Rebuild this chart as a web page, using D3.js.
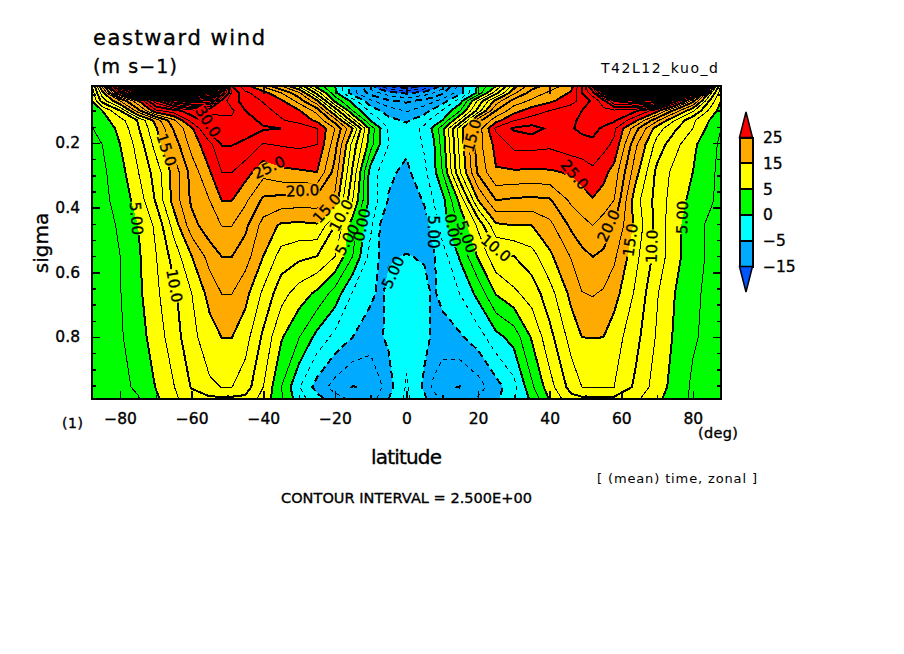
<!DOCTYPE html>
<html>
<head>
<meta charset="utf-8">
<title>eastward wind</title>
<script src="https://cdn.jsdelivr.net/npm/d3@7"></script>
<style>
body { margin: 0; background: #fff; }
text { font-family: "DejaVu Sans", sans-serif; fill: #000; }
.heavy text, text.heavy { stroke: #000; stroke-width: 0.35px; }
</style>
</head>
<body>
<svg id="chart" width="904" height="654"></svg>
<script>
// grid axes
var latitudes = [-87.86, -85, -80, -75, -70, -65, -60, -55, -51.6, -48.8, -45, -40, -35, -30, -25, -20, -15, -10, -7.5, -5, 0,
    5, 7.5, 10, 15, 20, 25, 30, 35, 40, 46, 49, 52, 55, 58, 64, 70, 75, 80, 85, 87.86];
var sigmaLevels = [0.024, 0.045, 0.07, 0.10, 0.13, 0.155, 0.205, 0.29, 0.377, 0.455, 0.55, 0.665, 0.80, 0.955, 0.992];

// zonal wind (m/s), one row per sigma level, top to bottom
var u024 = [7, 18, 36, 52, 66, 72, 74, 70, 50, 30, 26, 22, 17.5, 12, 3.8, 0, -6, -14, -17, -20, -22, -20, -17, -14, -6, 0.5, 5, 14, 19, 21, 24, 30, 38, 55, 70, 76, 76, 62, 45, 20, 7];
var u045 = [6, 14, 28, 40, 52, 58, 60, 55, 42, 32, 28, 26, 22.5, 18, 9, 0.8, -6.5, -11, -12.5, -14, -15.5, -14, -12.5, -10.5, -6, 0.8, 9, 17, 21, 23, 25.3, 30, 34, 44, 55, 62, 62, 50, 32, 13, 6];
var u070 = [5, 11, 17.5, 24.5, 34, 42, 45, 44, 34, 31, 29, 27.3, 25.5, 21.5, 15.5, 4.5, -1, -7, -8.3, -9.5, -10.5, -9, -8, -6.5, -1, 8, 16, 21, 23, 24.5, 26.5, 28.5, 30.5, 34, 40, 43, 42, 31, 21, 9, 5];
var u100 = [3.5, 5, 10, 19, 27, 29, 31.5, 33, 33, 33, 30, 28.3, 26.7, 25.2, 21.5, 12, 2.5, -3.3, -4.9, -6.2, -7.8, -6, -4.3, -2.3, 2.4, 11, 20, 24, 26.2, 27.5, 29, 30, 31, 31.8, 32, 30.5, 26, 19, 13, 6.5, 4];
var u130 = [3, 4, 6.5, 10.2, 16, 22, 28.5, 31.5, 32, 32, 31, 29.4, 27.8, 26.4, 24.5, 18.7, 8.5, -0.3, -2.2, -4.3, -5.3, -3.5, -1.5, 0, 8, 19, 24, 27.4, 28.5, 29, 29.7, 30.3, 31.5, 31.3, 30.5, 25.6, 18, 12.5, 8, 4.7, 3];
var u155 = [2.4, 3.5, 5.6, 9.7, 14.7, 20.3, 24.5, 31.5, 32, 32, 31, 30.3, 30, 29.6, 27.5, 22.5, 15, 4, 0.3, -2.8, -4.3, -1.8, 0.5, 4, 14, 21, 28, 30.3, 31, 29.5, 29.8, 30.5, 31, 29.5, 28, 21, 13.7, 10.4, 7.5, 4, 2.5];
var u205 = [2.2, 2.5, 5, 8.4, 13.5, 18.5, 23.5, 26.7, 30.1, 30.1, 29.5, 27.3, 27.7, 28, 27.5, 21, 11.5, 3.5, 0, -2.5, -4.4, -2.2, -0.5, 3.5, 13.5, 21.5, 25.8, 28.2, 28.3, 28, 29, 29.1, 29.2, 28.3, 27, 18, 11.5, 8.3, 5.6, 3, 2.2];
var u290 = [1.7, 2, 4, 7.4, 11.1, 16, 21, 24.8, 27.55, 27.55, 26, 23.4, 24.4, 24.7, 25, 19, 9.5, -1.3, -2.9, -4.5, -5.6, -3, -0.9, 2.5, 12.5, 20.5, 24.8, 24.7, 24.6, 24.7, 25.3, 26, 27, 25.8, 24, 16, 9.3, 6.7, 5, 3, 1.8];
var u377 = [1.4, 1.8, 3.5, 6, 10.3, 16, 20.5, 22.5, 25.05, 25.05, 23, 19.5, 19, 18.8, 18.8, 16.8, 7.5, -1.2, -2.9, -5.2, -6.3, -4.8, -2.5, -1, 5.8, 15, 20, 19.6, 19.4, 19.7, 23, 24, 24.8, 24, 22.5, 13.5, 9, 6.2, 4.3, 2.8, 1.7];
var u455 = [1.3, 1.6, 2.8, 5, 8, 13.5, 19, 21.6, 22.55, 22.55, 20.6, 16.5, 14.6, 14.4, 14.7, 10, 3.6, -2, -5, -5.8, -6.2, -5.8, -4.2, -1.2, 3.2, 8, 14.5, 15, 15, 16.8, 20.5, 21.6, 22.5, 21.3, 20, 14.3, 9, 5.8, 3.5, 1.9, 1.6];
var u550 = [1.2, 1.6, 2.5, 4.6, 7.4, 11, 15, 18.5, 20.05, 20.05, 18.6, 15, 11.5, 10.6, 10, 7.6, 2.5, -3.5, -5.1, -5.2, -4.9, -5.2, -5.3, -3.7, 0.4, 5.3, 9.3, 10, 11.5, 14.5, 17.7, 19.3, 20.05, 19.6, 18, 13.2, 9, 5.8, 3.5, 2, 1.6];
var u665 = [1.2, 1.5, 2.4, 4.4, 7, 9.5, 12.5, 15.9, 17.55, 17.55, 15.8, 12, 8.5, 6.3, 4.5, 1.5, -2.7, -4.5, -5.4, -4.5, -4, -4.4, -5.3, -4.4, -2.4, 0.8, 5.2, 7, 8.6, 11.5, 15.7, 17.4, 17.7, 17.2, 16, 12.1, 7.7, 5, 3, 1.9, 1.5];
var u800 = [1, 1.4, 2.2, 3.9, 6.2, 8.8, 11.8, 13.9, 15.05, 15.05, 13.5, 9.5, 5.3, 2.6, -0.8, -3.2, -5, -6.3, -5.3, -4.6, -3.3, -4.3, -5.4, -5.9, -5.3, -3.7, -0.8, 1, 5.3, 9.2, 13.5, 15.02, 15.05, 15.02, 13.7, 10.8, 7.2, 4.6, 2.8, 1.8, 1.3];
var u955 = [1, 1.2, 1.9, 2.9, 5.1, 7.4, 10.2, 12.1, 12.55, 12.55, 11.2, 7.5, 2.5, -2.3, -6, -8.5, -10.1, -9.6, -8, -6, -2.2, -5.5, -8, -9.5, -10.1, -8.6, -6, -3.4, 2, 6.5, 11, 12.5, 12.55, 12.6, 12.5, 9.5, 6.3, 4, 2.1, 1.4, 1.1];
var u992 = [1, 1.2, 1.7, 2.3, 4.5, 7, 8.8, 9.4, 9.4, 9.4, 9.4, 6.5, 3, -1.5, -4, -6.5, -8, -8.5, -7, -5, -2, -4.5, -6.5, -8, -8.3, -7.2, -5.5, -2.7, 0.5, 5.2, 9.2, 9.4, 9.4, 9.4, 9.4, 8, 5.6, 3.5, 2.2, 1.5, 1.2];
var windRows = [u024, u045, u070, u100, u130, u155, u205, u290, u377, u455, u550, u665, u800, u955, u992];

// colour bands and contour levels
var bandBreaks = [-15, -5, 0, 5, 15, 25];
var bandColors = ["#0055ff", "#00aaff", "#00ffff", "#00ff00", "#ffff00", "#ffaa00", "#ff0000"];
var legendLabels = ["25", "15", "5", "0", "\u22125", "\u221215"];
var contourLevels = d3.range(-25, 85, 2.5);

var latTicks = [-80, -60, -40, -20, 0, 20, 40, 60, 80];
var latMinorTicks = [-70, -50, -30, -10, 10, 30, 50, 70];
var sigmaTicks = [0.2, 0.4, 0.6, 0.8];
var sigmaMinorTicks = [0.05, 0.1, 0.15, 0.25, 0.3, 0.35, 0.45, 0.5, 0.55, 0.65, 0.7, 0.75, 0.85, 0.9, 0.95];

// contour labels: text, lat, sigma, rotation
var contourLabels = [
    ["30.0", -55.4, 0.134, 58], ["15.0", -67, 0.221, 72], ["25.0", -38.4, 0.275, -25],
    ["20.0", -29, 0.347, -3], ["15.0", -22.3, 0.402, -48], ["10.0", -18.3, 0.424, -62],
    ["5.00", -75.4, 0.433, 85], ["5.00", -16.6, 0.499, -60], ["0.00", -12.5, 0.453, -78],
    ["10.0", -64.8, 0.642, 80], ["5.00", -3.8, 0.600, -65],
    ["15.0", 18.3, 0.177, -75], ["25.0", 47, 0.298, 50], ["20.0", 56.4, 0.456, -65],
    ["15.0", 62.5, 0.5, -82], ["10.0", 68.5, 0.52, -88], ["5.00", 77, 0.43, -88],
    ["5.00", 7.4, 0.475, 90], ["0.00", 13, 0.47, 80], ["5.00", 16.9, 0.49, 70], ["10.0", 25, 0.525, 40]
];

var svg = d3.select("#chart");
var left = 92, right = 721, top_ = 86, bottom = 399;

var x = d3.scaleLinear().domain([-87.86, 87.86]).range([left, right]);
var y = d3.scaleLinear().domain([0.0237, 0.992]).range([top_, bottom]);

// d3.contours works in grid index space, these go from index to data
var nx = latitudes.length, ny = sigmaLevels.length;
var indexToLat = d3.scaleLinear().domain(d3.range(nx)).range(latitudes).clamp(true);
var indexToSigma = d3.scaleLinear().domain(d3.range(ny)).range(sigmaLevels).clamp(true);

var gridPath = d3.geoPath(d3.geoTransform({
    point: function (px, py) {
        this.stream.point(x(indexToLat(px - 0.5)), y(indexToSigma(py - 0.5)));
    }
}));
var flat = d3.merge(windRows);
var contours = d3.contours().size([nx, ny]);

var defs = svg.append("defs");
defs.append("clipPath").attr("id", "plot-clip").append("rect")
        .attr("x", left).attr("y", top_).attr("width", right - left).attr("height", bottom - top_);

// lines are broken where a label sits
var mask = defs.append("mask").attr("id", "label-gaps").attr("maskUnits", "userSpaceOnUse")
        .attr("x", 0).attr("y", 0).attr("width", 904).attr("height", 654);
mask.append("rect").attr("width", 904).attr("height", 654).attr("fill", "#fff");
mask.selectAll("rect.gap")
        .data(contourLabels)
        .enter().append("rect")
        .attr("class", "gap")
        .attr("x", -17).attr("y", -7).attr("width", 34).attr("height", 14)
        .attr("fill", "#000")
        .attr("transform", function (d) {
            return "translate(" + x(d[1]) + "," + y(d[2]) + ") rotate(" + d[3] + ")";
        });

var plot = svg.append("g").attr("clip-path", "url(#plot-clip)");

// colour bands
plot.append("rect")
        .attr("x", left).attr("y", top_).attr("width", right - left).attr("height", bottom - top_)
        .attr("fill", bandColors[0]);
plot.selectAll("path.band")
        .data(contours.thresholds(bandBreaks)(flat))
        .enter().append("path")
        .attr("class", "band")
        .attr("d", gridPath)
        .attr("fill", function (d, i) {
            return bandColors[i + 1];
        })
        .attr("shape-rendering", "crispEdges");

// contour lines, thick on multiples of 5, dashed when negative
plot.append("g").attr("mask", "url(#label-gaps)")
        .selectAll("path.line")
        .data(contours.thresholds(contourLevels)(flat))
        .enter().append("path")
        .attr("class", "line")
        .attr("d", gridPath)
        .attr("fill", "none")
        .attr("stroke", "#000")
        .attr("stroke-width", function (d) {
            return d.value % 5 === 0 ? 2 : 1;
        })
        .attr("stroke-dasharray", function (d) {
            if (d.value >= 0)
                return null;
            return d.value % 5 === 0 ? "7 4" : "4 4";
        })
        .attr("shape-rendering", "crispEdges");

svg.selectAll("text.clabel")
        .data(contourLabels)
        .enter().append("text")
        .attr("class", "clabel heavy")
        .attr("text-anchor", "middle")
        .attr("dy", "0.36em")
        .attr("font-size", 15)
        .attr("transform", function (d) {
            return "translate(" + x(d[1]) + "," + y(d[2]) + ") rotate(" + d[3] + ")";
        })
        .text(function (d) {
            return d[0];
        });

// frame and ticks
svg.append("rect")
        .attr("x", left).attr("y", top_).attr("width", right - left).attr("height", bottom - top_)
        .attr("fill", "none").attr("stroke", "#000").attr("stroke-width", 2)
        .attr("shape-rendering", "crispEdges");

function styleAxis(g) {
    g.attr("class", "heavy");
    g.select(".domain").remove();
    g.selectAll("line").attr("stroke", "#000").attr("stroke-width", 1.5).attr("shape-rendering", "crispEdges");
    g.selectAll("text").attr("font-size", 15.5);
}
var fmtLat = d3.format("d");

svg.append("g").attr("transform", "translate(0," + bottom + ")")
        .call(d3.axisBottom(x).tickValues(latTicks).tickSize(-8).tickPadding(14).tickFormat(fmtLat))
        .call(styleAxis);
svg.append("g").attr("transform", "translate(0," + bottom + ")")
        .call(d3.axisBottom(x).tickValues(latMinorTicks).tickSize(-4).tickFormat(""))
        .call(styleAxis);
svg.append("g").attr("transform", "translate(0," + top_ + ")")
        .call(d3.axisTop(x).tickValues(latTicks).tickSize(-8).tickFormat(""))
        .call(styleAxis);
svg.append("g").attr("transform", "translate(0," + top_ + ")")
        .call(d3.axisTop(x).tickValues(latMinorTicks).tickSize(-4).tickFormat(""))
        .call(styleAxis);
svg.append("g").attr("transform", "translate(" + left + ",0)")
        .call(d3.axisLeft(y).tickValues(sigmaTicks).tickSize(-8).tickPadding(12).tickFormat(d3.format(".1f")))
        .call(styleAxis);
svg.append("g").attr("transform", "translate(" + left + ",0)")
        .call(d3.axisLeft(y).tickValues(sigmaMinorTicks).tickSize(-4).tickFormat(""))
        .call(styleAxis);
svg.append("g").attr("transform", "translate(" + right + ",0)")
        .call(d3.axisRight(y).tickValues(sigmaTicks).tickSize(-8).tickFormat(""))
        .call(styleAxis);
svg.append("g").attr("transform", "translate(" + right + ",0)")
        .call(d3.axisRight(y).tickValues(sigmaMinorTicks).tickSize(-4).tickFormat(""))
        .call(styleAxis);

// colour bar: one box per band between two arrow heads
var barX = 739.5, barW = 13;
var barY = d3.scaleBand().domain(d3.range(5)).range([137.5, 266.5]);
var barColors = bandColors.slice(1, 6).reverse();
svg.selectAll("rect.key")
        .data(barColors)
        .enter().append("rect")
        .attr("class", "key")
        .attr("x", barX).attr("y", function (d, i) {
            return barY(i);
        })
        .attr("width", barW).attr("height", barY.bandwidth())
        .attr("fill", function (d) {
            return d;
        })
        .attr("stroke", "#000").attr("stroke-width", 2)
        .attr("shape-rendering", "crispEdges");
svg.append("path")
        .attr("d", d3.line()([[barX, 137.5], [barX + barW / 2, 112], [barX + barW, 137.5]]) + "Z")
        .attr("fill", bandColors[6]).attr("stroke", "#000").attr("stroke-width", 1.5);
svg.append("path")
        .attr("d", d3.line()([[barX, 266.5], [barX + barW / 2, 292], [barX + barW, 266.5]]) + "Z")
        .attr("fill", bandColors[0]).attr("stroke", "#000").attr("stroke-width", 1.5);
svg.selectAll("text.key")
        .data(legendLabels)
        .enter().append("text")
        .attr("class", "key heavy")
        .attr("x", 763)
        .attr("y", function (d, i) {
            return 137.5 + i * barY.bandwidth();
        })
        .attr("dy", "0.36em")
        .attr("font-size", 15.5)
        .text(function (d) {
            return d;
        });

// titles and notes: text, x, baseline, size, width, css class
var notes = [
    ["eastward wind", 93, 45, 21, 172, "heavy"],
    ["(m s\u22121)", 93, 73, 19, 84, "heavy"],
    ["T42L12_kuo_d", 601, 73, 14, 117, ""],
    ["(1)", 62, 428, 14, 21, "heavy"],
    ["(deg)", 698, 438, 14.5, 40, "heavy"],
    ["latitude", 371, 464, 20, 71, "heavy"],
    ["[ (mean) time, zonal ]", 597, 483, 13, 160, ""],
    ["CONTOUR INTERVAL = 2.500E+00", 281, 503, 14.5, 251, "heavy"]
];
svg.selectAll("text.note")
        .data(notes)
        .enter().append("text")
        .attr("class", function (d) {
            return "note " + d[5];
        })
        .attr("x", function (d) {
            return d[1];
        })
        .attr("y", function (d) {
            return d[2];
        })
        .attr("font-size", function (d) {
            return d[3];
        })
        .attr("textLength", function (d) {
            return d[4];
        })
        .attr("lengthAdjust", "spacing")
        .text(function (d) {
            return d[0];
        });
svg.append("text")
        .attr("class", "heavy")
        .attr("transform", "translate(48,243) rotate(-90)")
        .attr("text-anchor", "middle")
        .attr("font-size", 20)
        .text("sigma");
</script>
</body>
</html>
